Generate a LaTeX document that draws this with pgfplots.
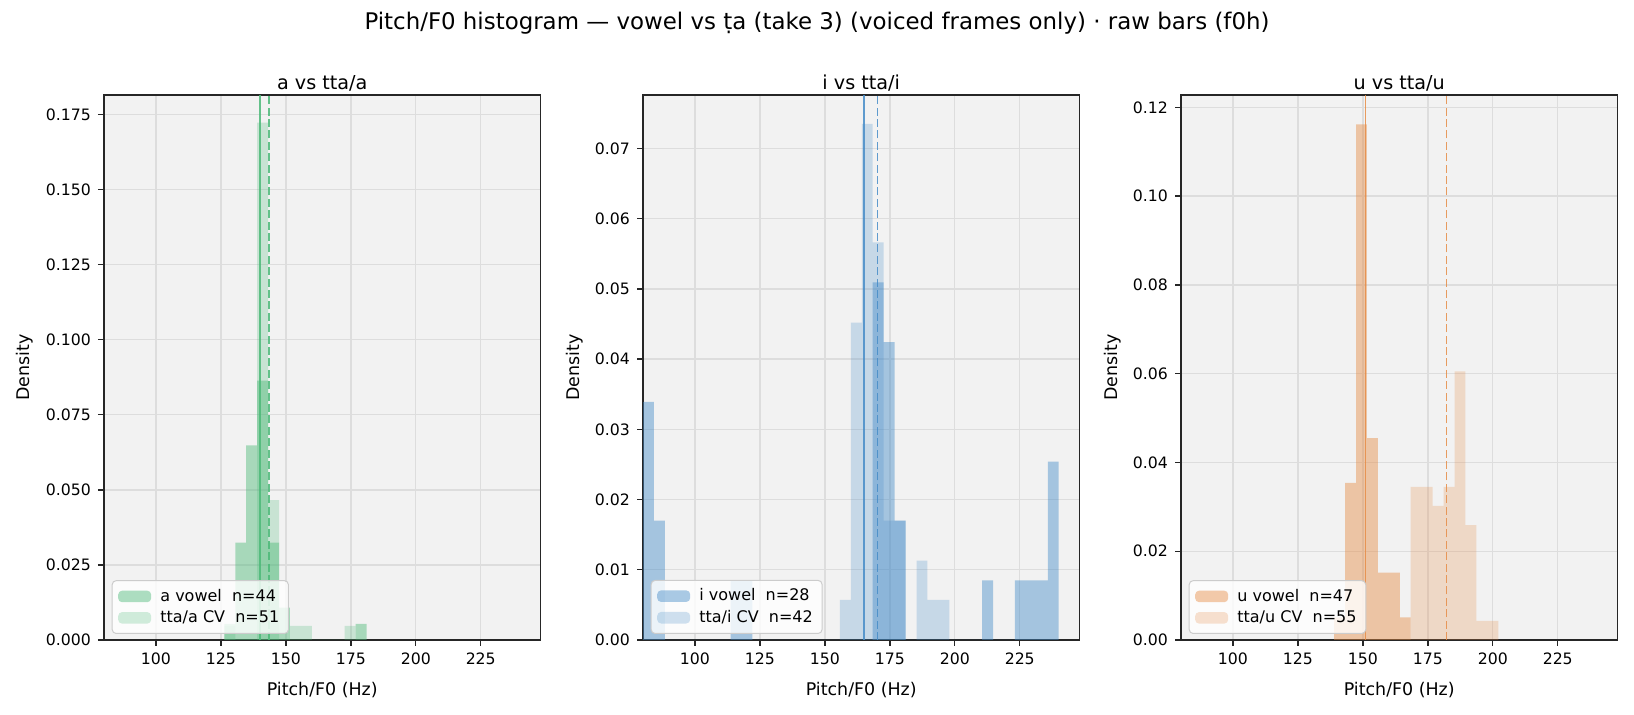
\documentclass[border=0pt]{standalone}
\usepackage{fontspec}
\setmainfont{DejaVu Sans}
\usepackage{pgfplots}
\pgfplotsset{compat=1.18}

\definecolor{bgc}{RGB}{242,242,242}
\definecolor{gridc}{RGB}{221,221,221}
\definecolor{cg}{RGB}{76,185,120}
\definecolor{cb}{RGB}{70,140,200}
\definecolor{co}{RGB}{230,140,70}
\definecolor{legc}{RGB}{204,204,204}
\definecolor{axc}{RGB}{38,38,38}

\pgfplotsset{
  panel/.style={
    scale only axis, width=218.25pt, height=272.5pt, anchor=south west,
    xmin=80, xmax=248, ymin=0,
    xtick={100,125,150,175,200,225},
    axis background/.style={fill=bgc},
    grid=major, major grid style={gridc, line width=0.7pt},
    axis line style={line width=0.7pt, axc},
    tick style={axc, line width=0.7pt},
    tick align=outside, major tick length=3pt,
    xtick pos=left, ytick pos=left,
    /pgf/number format/assume math mode=true,
    tick label style={font=\fontsize{7.85}{9}\selectfont},
    label style={font=\fontsize{8.72}{10}\selectfont},
    title style={font=\fontsize{9.6}{11}\selectfont, anchor=base, at={(0.5,1)}, yshift=-3.1pt},
    xlabel={Pitch/F0 (Hz)}, ylabel={Density},
    xlabel style={at={(axis description cs:0.5,-0.0917)}, anchor=center},
    scaled y ticks=false,
    legend style={at={(0.0176,0.011)}, anchor=south west, fill=white, fill opacity=0.8,
      draw opacity=1, text opacity=1, draw=legc, line width=0.5pt, rounded corners=2pt,
      font=\fontsize{8}{9}\selectfont, inner xsep=3pt, inner ysep=2.5pt, row sep=0pt,
      nodes={inner sep=1.6pt}},
    legend cell align=left,
  },
  vowel/.style={ybar interval, fill=#1, fill opacity=0.45, draw=none,
    legend image code/.code={\fill[##1] (0pt,-2.9pt) rectangle (16.5pt,2.9pt); \path (19.5pt,0pt);}},
  cv/.style={ybar interval, fill=#1, fill opacity=0.25, draw=none,
    legend image code/.code={\fill[##1] (0pt,-2.9pt) rectangle (16.5pt,2.9pt); \path (19.5pt,0pt);}},
  vline/.style={draw=#1, draw opacity=0.85, line width=0.7pt, forget plot},
  dline/.style={draw=#1, draw opacity=0.85, line width=0.7pt, dash pattern=on 4pt off 1.7pt, forget plot},
}

\begin{document}
\begin{tikzpicture}
\path[use as bounding box] (0,0) rectangle (817pt,357.5pt);
\node[font=\fontsize{11.45}{13}\selectfont] at (408.5pt,346pt) {Pitch/F0 histogram — vowel vs ṭa (take 3) (voiced frames only) · raw bars (f0h)};

% ---------- panel a ----------
\begin{axis}[panel, at={(52pt,37.5pt)}, ymax=0.1815,
  title={a vs tta/a},
  ytick={0,0.025,0.05,0.075,0.1,0.125,0.15,0.175},
  yticklabel style={/pgf/number format/.cd, fixed, fixed zerofill, precision=3},
  ylabel style={at={(axis description cs:-0.181,0.5)}, anchor=center}]
\addplot[vowel=cg] coordinates {(126.3158,0.0054) (130.5263,0.0324) (134.7368,0.0648) (138.9474,0.0864) (143.1579,0.0324) (147.3684,0.0108) (151.5789,0) (155.7895,0) (160,0) (164.2105,0) (168.4211,0) (172.6316,0) (176.8421,0.0054) (181.0526,0)};
\addlegendentry{a vowel\ \ n=44}
\addplot[cv=cg] coordinates {(126.3158,0.0047) (130.5263,0) (134.7368,0) (138.9474,0.1723) (143.1579,0.0466) (147.3684,0) (151.5789,0.0047) (155.7895,0.0047) (160,0) (164.2105,0) (168.4211,0) (172.6316,0.0047) (176.8421,0)};
\addlegendentry{tta/a CV\ \ n=51}
\addplot[vline=cg] coordinates {(140.1,0) (140.1,0.1815)};
\addplot[dline=cg] coordinates {(143.5,0) (143.5,0.1815)};
\end{axis}

% ---------- panel i ----------
\begin{axis}[panel, at={(321.5pt,37.5pt)}, ymax=0.0776,
  title={i vs tta/i},
  ytick={0,0.01,0.02,0.03,0.04,0.05,0.06,0.07},
  yticklabel style={/pgf/number format/.cd, fixed, fixed zerofill, precision=2},
  ylabel style={at={(axis description cs:-0.157,0.5)}, anchor=center}]
\addplot[vowel=cb] coordinates {(80,0.0339) (84.2105,0.0170) (88.4211,0) (92.6316,0) (96.8421,0) (101.0526,0) (105.2632,0) (109.4737,0) (113.6842,0.0085) (117.8947,0.0085) (122.1053,0) (126.3158,0) (130.5263,0) (134.7368,0) (138.9474,0) (143.1579,0) (147.3684,0) (151.5789,0) (155.7895,0) (160,0) (164.2105,0) (168.4211,0.0509) (172.6316,0.0424) (176.8421,0.0170) (181.0526,0) (185.2632,0) (189.4737,0) (193.6842,0) (197.8947,0) (202.1053,0) (206.3158,0) (210.5263,0.0085) (214.7368,0) (218.9474,0) (223.1579,0.0085) (227.3684,0.0085) (231.5789,0.0085) (235.7895,0.0254) (240,0)};
\addlegendentry{i vowel\ \ n=28}
\addplot[cv=cb] coordinates {(155.7895,0.0057) (160,0.0452) (164.2105,0.0735) (168.4211,0.0566) (172.6316,0.0170) (176.8421,0.0170) (181.0526,0) (185.2632,0.0113) (189.4737,0.0057) (193.6842,0.0057) (197.8947,0)};
\addlegendentry{tta/i CV\ \ n=42}
\addplot[vline=cb] coordinates {(165.0,0) (165.0,0.0776)};
\addplot[dline=cb] coordinates {(170.3,0) (170.3,0.0776)};
\end{axis}

% ---------- panel u ----------
\begin{axis}[panel, at={(590.5pt,37.5pt)}, ymax=0.1228,
  title={u vs tta/u},
  ytick={0,0.02,0.04,0.06,0.08,0.1,0.12},
  yticklabel style={/pgf/number format/.cd, fixed, fixed zerofill, precision=2},
  ylabel style={at={(axis description cs:-0.157,0.5)}, anchor=center}]
\addplot[vowel=co] coordinates {(138.9474,0.0051) (143.1579,0.0354) (147.3684,0.1162) (151.5789,0.0455) (155.7895,0.0152) (160,0.0152) (164.2105,0.0051) (168.4211,0)};
\addlegendentry{u vowel\ \ n=47}
\addplot[cv=co] coordinates {(168.4211,0.0345) (172.6316,0.0345) (176.8421,0.0302) (181.0526,0.0345) (185.2632,0.0605) (189.4737,0.0259) (193.6842,0.0043) (197.8947,0.0043) (202.1053,0)};
\addlegendentry{tta/u CV\ \ n=55}
\addplot[vline=co] coordinates {(150.9,0) (150.9,0.1228)};
\addplot[dline=co] coordinates {(182.1,0) (182.1,0.1228)};
\end{axis}
\end{tikzpicture}
\end{document}
